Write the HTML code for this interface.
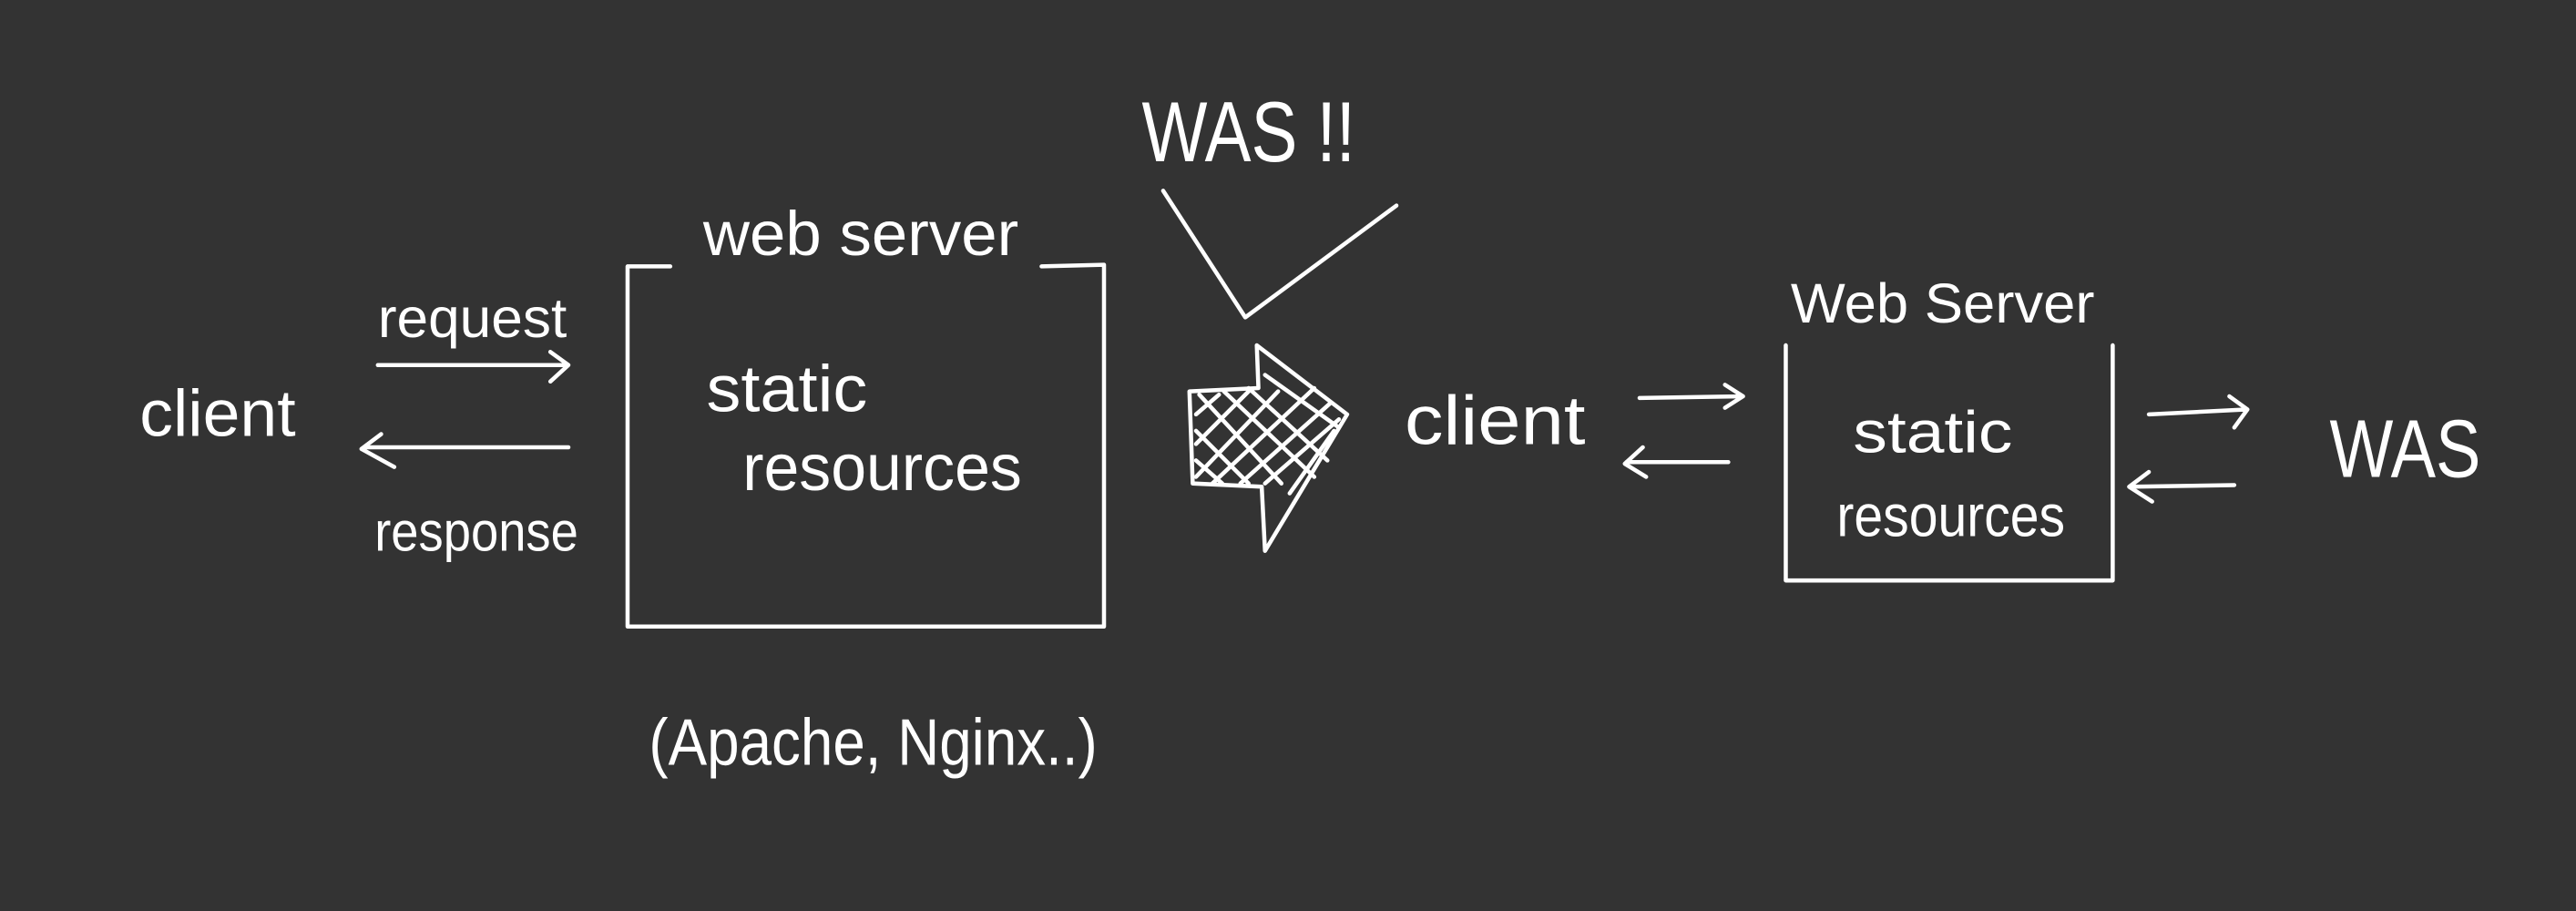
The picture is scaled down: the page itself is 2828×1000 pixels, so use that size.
<!DOCTYPE html>
<html><head><meta charset="utf-8"><style>
html,body{margin:0;padding:0;background:#333333;}
svg{display:block}
text{font-family:"Liberation Sans",sans-serif;fill:#fff;}
</style></head><body>
<svg width="2828" height="1000" viewBox="0 0 1568 554" preserveAspectRatio="none" xmlns="http://www.w3.org/2000/svg">
<rect width="1568" height="554" fill="#333333"/>
<g stroke="#fff" stroke-width="2.5" fill="none" stroke-linecap="round" stroke-linejoin="round">
<path d="M230 222 L345 222 M335 214 L346 222 L335 232"/>
<path d="M346 272 L222 272 M232 264 L220 273 L240 284"/>
<path d="M408 162 L382 162 L382 381 L672 381 L672 161 L634 162"/>
<path d="M708 116 L758 193 L850 125"/>
<path d="M765 210 L820 252 L770 335 L768 296 L726 294 L724 238 L766 236 Z"/>
<path d="M730 240 L780 294 M745 238 L800 290 M760 236 L808 280 M728 262 L760 294 M728 280 L744 294 M770 228 L815 260"/>
<path d="M728 290 L778 238 M738 294 L800 236 M755 294 L810 245 M770 294 L815 255 M728 270 L760 238 M728 252 L742 240 M785 300 L812 262"/>
<path d="M998 242 L1060 241 M1050 234 L1061 241 L1050 248"/>
<path d="M1052 281 L990 281 M1000 272 L989 282 L1002 290"/>
<path d="M1087 210 L1087 353 L1286 353 L1286 210"/>
<path d="M1308 252 L1367 249 M1357 241 L1368 249 L1360 260"/>
<path d="M1360 295 L1298 296 M1308 287 L1296 296 L1310 305"/>
</g>
<text x="85" y="265" font-size="40" textLength="95" lengthAdjust="spacingAndGlyphs">client</text>
<text x="230" y="205" font-size="34" textLength="115" lengthAdjust="spacingAndGlyphs">request</text>
<text x="228" y="335" font-size="34" textLength="124" lengthAdjust="spacingAndGlyphs">response</text>
<text x="428" y="155" font-size="38" textLength="192" lengthAdjust="spacingAndGlyphs">web server</text>
<text x="430" y="250" font-size="40" textLength="98" lengthAdjust="spacingAndGlyphs">static</text>
<text x="452" y="298" font-size="40" textLength="170" lengthAdjust="spacingAndGlyphs">resources</text>
<text x="395" y="465" font-size="40" textLength="273" lengthAdjust="spacingAndGlyphs">(Apache, Nginx..)</text>
<text x="695" y="98" font-size="52" textLength="130" lengthAdjust="spacingAndGlyphs">WAS !!</text>
<text x="855" y="270" font-size="42" textLength="110" lengthAdjust="spacingAndGlyphs">client</text>
<text x="1090" y="196" font-size="34" textLength="185" lengthAdjust="spacingAndGlyphs">Web Server</text>
<text x="1128" y="275" font-size="36" textLength="97" lengthAdjust="spacingAndGlyphs">static</text>
<text x="1118" y="326" font-size="36" textLength="139" lengthAdjust="spacingAndGlyphs">resources</text>
<text x="1418" y="290" font-size="50" textLength="92" lengthAdjust="spacingAndGlyphs">WAS</text>
</svg>
</body></html>
